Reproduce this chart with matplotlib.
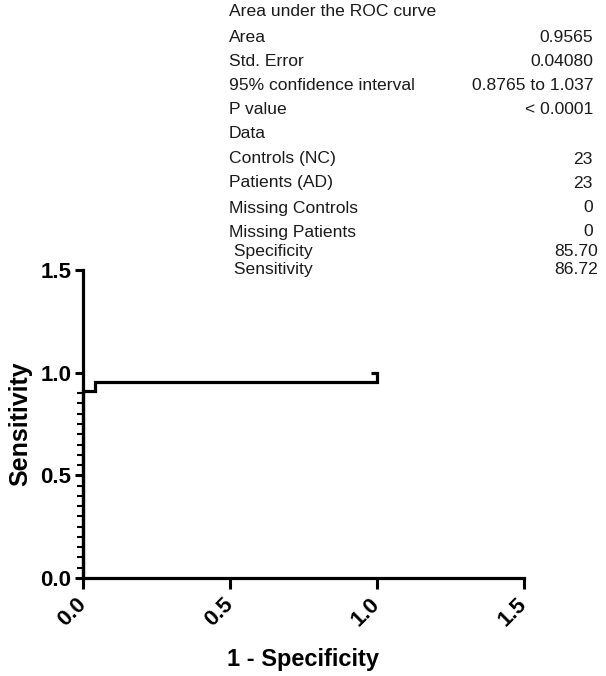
import matplotlib
matplotlib.use("Agg")
import matplotlib.pyplot as plt
import numpy as np

# ---------------------------------------
# Data
# ---------------------------------------
# ROC curve (1 - specificity, sensitivity)
fpr = [0.0, 0.0, 0.0435, 0.0435, 1.0, 1.0, 0.98]
tpr = [0.0, 0.913, 0.913, 0.9565, 0.9565, 1.0, 1.0]

x_ticks = [0.0, 0.5, 1.0, 1.5]
y_ticks = [0.0, 0.5, 1.0, 1.5]
y_minor = [0.05, 0.1, 0.15, 0.2, 0.25, 0.3, 0.35, 0.4, 0.45,
           0.55, 0.6, 0.65, 0.7, 0.75, 0.8, 0.85, 0.9]

# results table
table_labels = ["Area under the ROC curve", "Area", "Std. Error",
                "95% confidence interval", "P value", "Data",
                "Controls (NC)", "Patients (AD)", "Missing Controls",
                "Missing Patients", " Specificity", " Sensitivity"]
table_values = ["", "0.9565", "0.04080", "0.8765 to 1.037", "< 0.0001", "",
                "23", "23", "0", "0", "85.70", "86.72"]

# ---------------------------------------
# Figure
# ---------------------------------------
W, H = 606, 676
plt.rcParams['font.family'] = ['Liberation Sans', 'DejaVu Sans']
fig = plt.figure(figsize=(W / 100, H / 100), dpi=100)
ax = fig.add_axes([82.7 / W, 98 / H, 441.3 / W, 308 / H])

ax.plot(fpr, tpr, color='black', lw=2.3, clip_on=False,
        solid_joinstyle='miter', solid_capstyle='butt')

ax.set_xlim(0, 1.5)
ax.set_ylim(0, 1.5)
ax.set_xticks(x_ticks)
ax.set_yticks(y_ticks)
ax.set_yticks(y_minor, minor=True)
ax.set_xticklabels([f"{v:.1f}" for v in x_ticks], rotation=45,
                   ha='right', va='center', rotation_mode='anchor',
                   fontsize=16, fontweight='bold')
ax.set_yticklabels([f"{v:.1f}" for v in y_ticks], fontsize=16,
                   fontweight='bold')

for side in ['top', 'right']:
    ax.spines[side].set_visible(False)
for side in ['left', 'bottom']:
    ax.spines[side].set_linewidth(2.3)

ax.tick_params(axis='x', which='major', length=8, width=2.2, pad=9)
ax.tick_params(axis='y', which='major', length=6, width=2.2, pad=2)
ax.tick_params(axis='y', which='minor', length=4, width=1.5)

ax.set_xlabel("1 - Specificity", fontsize=17, fontweight='bold', labelpad=12)
ax.set_ylabel("Sensitivity", fontsize=18, fontweight='bold', labelpad=6)

# results table at the top right
row_y = [12, 37, 61, 86, 110, 134, 159, 183, 208, 232, 251, 270]
for lab, val, yy in zip(table_labels, table_values, row_y):
    fig.text(229 / W, 1 - yy / H, lab, fontsize=12.6, color='#1a1a1a',
             ha='left', va='center')
    if val:
        xr = 598 if lab.startswith(" ") else 593
        fig.text(xr / W, 1 - yy / H, val, fontsize=12.6, color='#1a1a1a',
                 ha='right', va='center')

fig.savefig("out.png", dpi=100)
